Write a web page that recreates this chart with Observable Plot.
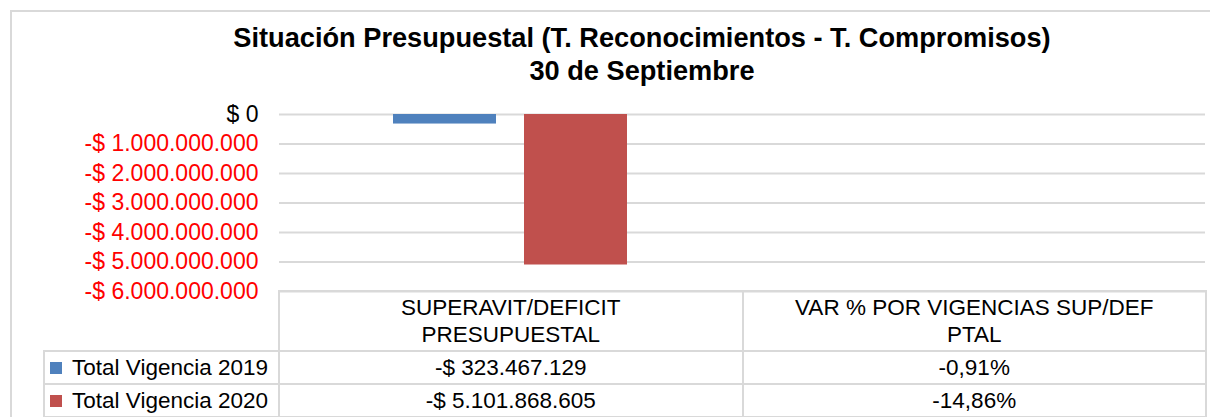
<!DOCTYPE html>
<html>
<head>
<meta charset="utf-8">
<script src="https://cdn.jsdelivr.net/npm/d3@7"></script>
<script src="https://cdn.jsdelivr.net/npm/@observablehq/plot@0.6"></script>
<style>
  html, body { margin: 0; padding: 0; background: #fff; }
  #wrap { position: relative; width: 1210px; height: 417px; overflow: hidden; font-family: "Liberation Sans", Arial, sans-serif; }
  #frame { position: absolute; left: 10px; top: 10px; width: 1300px; height: 500px; border: 2px solid #d9d9d9; box-sizing: border-box; }
  #title { position: absolute; left: 0; width: 1284px; top: 21px; text-align: center; font-weight: bold; font-size: 27.2px; line-height: 33px; color: #000; }
  #chart { position: absolute; left: 0; top: 0; }
  #tbl { position: absolute; left: 43px; top: 290px; border-collapse: collapse; font-size: 22.5px; color: #000; table-layout: fixed; }
  #tbl td { border: 2px solid #d9d9d9; text-align: center; vertical-align: middle; padding: 0; white-space: nowrap; }
  #tbl td.blank { border: none; border-bottom: 2px solid #d9d9d9; }
  #tbl td.leg { text-align: left; padding-left: 5px; }
  #tbl .sw { display: inline-block; width: 12px; height: 12px; margin-right: 10px; vertical-align: 1px; }
</style>
</head>
<body>
<div id="wrap">
  <div id="frame"></div>
  <div id="title">Situación Presupuestal (T. Reconocimientos - T. Compromisos)<br>30 de Septiembre</div>
  <div id="chart"></div>
  <table id="tbl"></table>
</div>
<script>
// ---- data ----
const categories = ["SUPERAVIT/DEFICIT PRESUPUESTAL", "VAR % POR VIGENCIAS SUP/DEF PTAL"];
const headerLines = [["SUPERAVIT/DEFICIT", "PRESUPUESTAL"], ["VAR % POR VIGENCIAS SUP/DEF", "PTAL"]];
const series = ["Total Vigencia 2019", "Total Vigencia 2020"];
const superavit = [-323467129, -5101868605];
const varPct = [-0.91, -14.86];
const colors = ["#4F81BD", "#C0504D"];
const yTicks = [0, -1e9, -2e9, -3e9, -4e9, -5e9, -6e9];

const rows = [];
series.forEach((s, i) => {
  rows.push({category: categories[0], series: s, value: superavit[i]});
  rows.push({category: categories[1], series: s, value: varPct[i] / 100});
});

const money = v => {
  const a = d3.format(",")(Math.round(Math.abs(v))).replace(/,/g, ".");
  return (v < 0 ? "-$ " : "$ ") + a;
};
const pct = v => v.toFixed(2).replace(".", ",") + "%";

const axisOpts = {tickSize: 0, tickPadding: 21, fontSize: 23, tickFormat: money, label: null};

const chart = Plot.plot({
  width: 1210,
  height: 320,
  marginTop: 114,
  marginBottom: 29,
  marginLeft: 278,
  marginRight: 5,
  style: {fontFamily: "Liberation Sans, Arial, sans-serif", fontSize: "23px", background: "transparent"},
  fx: {domain: categories, padding: 0, axis: null, label: null},
  x: {domain: series, axis: null, label: null, paddingInner: 0.212, paddingOuter: 0.86},
  y: {domain: [-6e9, 0], axis: null, label: null},
  color: {domain: series, range: colors},
  marks: [
    Plot.ruleY(yTicks, {stroke: "#d9d9d9", strokeWidth: 2}),
    Plot.barY(rows, {fx: "category", x: "series", y: "value", fill: "series"}),
    Plot.axisY(yTicks.filter(d => d < 0), {...axisOpts, color: "#ff0000"}),
    Plot.axisY(yTicks.filter(d => d === 0), {...axisOpts, color: "#000000"})
  ]
});
document.getElementById("chart").appendChild(chart);

// ---- data table below the plot ----
const step = (1210 - 278 - 5) / categories.length;
const tbl = document.getElementById("tbl");
const colW = [235, step, step];
const cg = document.createElement("colgroup");
colW.forEach(w => { const c = document.createElement("col"); c.style.width = w + "px"; cg.appendChild(c); });
tbl.appendChild(cg);

const hr = document.createElement("tr");
hr.style.height = "60px";
const b = document.createElement("td"); b.className = "blank"; hr.appendChild(b);
headerLines.forEach(lines => {
  const td = document.createElement("td");
  td.style.lineHeight = "27.5px";
  td.innerHTML = lines.join("<br>");
  hr.appendChild(td);
});
tbl.appendChild(hr);

series.forEach((s, i) => {
  const tr = document.createElement("tr");
  tr.style.height = "33px";
  const l = document.createElement("td");
  l.className = "leg";
  l.innerHTML = `<span class="sw" style="background:${colors[i]}"></span>${s}`;
  tr.appendChild(l);
  const c1 = document.createElement("td"); c1.textContent = money(superavit[i]); tr.appendChild(c1);
  const c2 = document.createElement("td"); c2.textContent = pct(varPct[i]); tr.appendChild(c2);
  tbl.appendChild(tr);
});
</script>
</body>
</html>
